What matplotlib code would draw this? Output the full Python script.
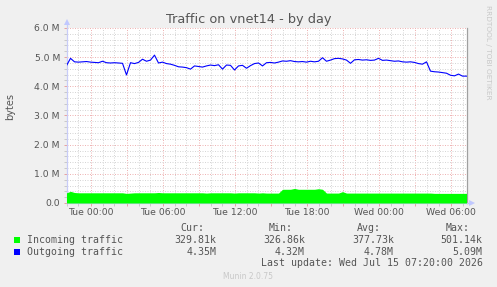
import numpy as np
import pandas as pd
import matplotlib
matplotlib.use('Agg')
import matplotlib.pyplot as plt
import matplotlib.dates as mdates
from matplotlib.patches import Rectangle
from matplotlib.ticker import MultipleLocator, FuncFormatter

# --- datos (muestras cada 20 minutos, en MB/s) ---
inicio = '2026-07-13 22:00'
fin = '2026-07-15 07:20'

saliente = [4.71, 4.96, 4.84, 4.83, 4.84, 4.85, 4.83, 4.82, 4.81, 4.86,
            4.81, 4.80, 4.81, 4.80, 4.79, 4.39, 4.81, 4.78, 4.82, 4.93,
            4.86, 4.90, 5.07, 4.80, 4.83, 4.78, 4.76, 4.72, 4.67, 4.66,
            4.64, 4.59, 4.70, 4.68, 4.66, 4.70, 4.73, 4.71, 4.74, 4.59,
            4.73, 4.72, 4.56, 4.70, 4.72, 4.62, 4.71, 4.78, 4.80, 4.70,
            4.81, 4.82, 4.80, 4.83, 4.87, 4.86, 4.88, 4.85, 4.84, 4.85,
            4.83, 4.86, 4.84, 4.86, 4.98, 4.86, 4.90, 4.95, 4.96, 4.94,
            4.90, 4.79, 4.91, 4.92, 4.90, 4.91, 4.89, 4.90, 4.96, 4.89,
            4.90, 4.88, 4.86, 4.87, 4.84, 4.83, 4.84, 4.82, 4.78, 4.76,
            4.84, 4.52, 4.50, 4.49, 4.47, 4.45, 4.38, 4.36, 4.42, 4.35,
            4.35]

entrante = [0.35, 0.40, 0.36, 0.35, 0.35, 0.35, 0.35, 0.35, 0.35, 0.35,
            0.35, 0.35, 0.35, 0.35, 0.35, 0.33, 0.34, 0.35, 0.35, 0.35,
            0.35, 0.35, 0.35, 0.36, 0.35, 0.35, 0.35, 0.35, 0.35, 0.35,
            0.35, 0.35, 0.35, 0.35, 0.35, 0.34, 0.35, 0.35, 0.35, 0.35,
            0.35, 0.35, 0.34, 0.35, 0.35, 0.35, 0.35, 0.35, 0.34, 0.35,
            0.34, 0.34, 0.34, 0.34, 0.47, 0.47, 0.47, 0.50, 0.47, 0.47,
            0.47, 0.47, 0.47, 0.49, 0.47, 0.34, 0.34, 0.34, 0.34, 0.39,
            0.34, 0.34, 0.34, 0.34, 0.34, 0.34, 0.34, 0.34, 0.34, 0.34,
            0.34, 0.34, 0.34, 0.34, 0.34, 0.34, 0.34, 0.34, 0.34, 0.34,
            0.34, 0.34, 0.33, 0.33, 0.33, 0.33, 0.33, 0.33, 0.33, 0.33,
            0.33]

etiquetasSerie = ['Incoming traffic', 'Outgoing traffic']
coloresSerie = ['#00ff00', '#0000ff']
actual = ['329.81k', '4.35M']
minimo = ['326.86k', '4.32M']
promedio = ['377.73k', '4.78M']
maximo = ['501.14k', '5.09M']

tiempos = pd.date_range(inicio, fin, periods=len(saliente))

# =============================================================================
# Figura
# =============================================================================
W, H = 497, 287
fondo = '#f0f0f0'
colorTexto = '#555555'

fig = plt.figure(figsize=(W / 100, H / 100), dpi=100, facecolor=fondo)

def px(x, y):
    # pasa de pixeles (origen arriba a la izquierda) a fraccion de figura
    return x / W, 1 - y / H

izq, der, arr, aba = 66.5, 466.5, 28, 203
ax = fig.add_axes([izq / W, 1 - aba / H, (der - izq) / W, (aba - arr) / H])
ax.set_facecolor('white')

ax.fill_between(tiempos, 0, np.array(entrante) * 1e6, color=coloresSerie[0],
                linewidth=0, zorder=3)
ax.plot(tiempos, np.array(saliente) * 1e6, color=coloresSerie[1], lw=0.8, zorder=4)

ax.set_xlim(tiempos[0], tiempos[-1])
ax.set_ylim(0, 6e6)

# ejes y grilla
ax.yaxis.set_major_locator(MultipleLocator(1e6))
ax.yaxis.set_minor_locator(MultipleLocator(0.2e6))
ax.yaxis.set_major_formatter(FuncFormatter(
    lambda v, p: '0.0' if v == 0 else f'{v / 1e6:.1f} M'))

ax.xaxis.set_major_locator(mdates.HourLocator(byhour=range(0, 24, 3)))
ax.xaxis.set_minor_locator(mdates.HourLocator())
def formatoHora(v, p):
    d = mdates.num2date(v)
    return d.strftime('%a %H:%M') if d.hour % 6 == 0 else ''
ax.xaxis.set_major_formatter(FuncFormatter(formatoHora))

ax.grid(True, which='major', color='#eeb4b4', lw=0.72, ls=(0, (1, 1.5)), zorder=1)
ax.grid(True, which='minor', color='#d6d6d6', lw=0.72, ls=(0, (1, 1.5)), zorder=1)
ax.set_axisbelow(True)

ax.tick_params(which='both', direction='out', length=2.2, width=0.7,
               labelsize=6.7, labelcolor=colorTexto)
ax.tick_params(which='major', color='#e8a0a0')
ax.tick_params(which='minor', color='#c8c8c8')
ax.tick_params(axis='y', pad=2.5)
ax.tick_params(axis='x', pad=1.5)

ax.spines['top'].set_visible(False)
ax.spines['right'].set_color('#a0a0a0')
ax.spines['right'].set_linewidth(0.9)
ax.spines['left'].set_color('#c8ccf8')
ax.spines['bottom'].set_color('#c8ccf8')
ax.spines['left'].set_linewidth(0.9)
ax.spines['bottom'].set_linewidth(0.9)

# flechas de los ejes
colorFlecha = '#c0c8ff'
ax.plot([0, 0], [1, 1.035], transform=ax.transAxes, color='#c8ccf8', lw=0.9,
        clip_on=False)
ax.plot([0], [1.035], transform=ax.transAxes, marker='^', ms=5, color=colorFlecha,
        clip_on=False, mew=0)
ax.plot([1, 1.015], [0, 0], transform=ax.transAxes, color='#c8ccf8', lw=0.9,
        clip_on=False)
ax.plot([1.015], [0], transform=ax.transAxes, marker='>', ms=5, color=colorFlecha,
        clip_on=False, mew=0)

# textos
fig.text(*px(249, 19), 'Traffic on vnet14 - by day', ha='center', va='center',
         fontsize=9.3, color=colorTexto)
fig.text(*px(10, 106), 'bytes', ha='center', va='center', rotation=90,
         fontsize=7, color=colorTexto)
fig.text(*px(488, 52), 'RRDTOOL / TOBI OETIKER', ha='center', va='center',
         rotation=270, fontsize=5.3, color='#c8c8c8')

mono = 'DejaVu Sans Mono'
fsLeyenda = 7.1
cabeceras = [('Cur:', 204), ('Min:', 292.7), ('Avg:', 381), ('Max:', 470)]
for texto, x in cabeceras:
    fig.text(*px(x, 228), texto, ha='right', va='center', family=mono,
             fontsize=fsLeyenda, color=colorTexto)

columnas = [(actual, 216.7), (minimo, 305), (promedio, 394), (maximo, 482.7)]
for i, nombre in enumerate(etiquetasSerie):
    y = 240 + 12 * i
    fig.add_artist(Rectangle(px(14, y + 3), 6 / W, 6 / H, transform=fig.transFigure,
                             color=coloresSerie[i], lw=0))
    fig.text(*px(26.7, y), nombre, ha='left', va='center', family=mono,
             fontsize=fsLeyenda, color=colorTexto)
    for valores, x in columnas:
        fig.text(*px(x, y), valores[i], ha='right', va='center', family=mono,
                 fontsize=fsLeyenda, color=colorTexto)

fig.text(*px(482.7, 263.5), 'Last update: Wed Jul 15 07:20:00 2026', ha='right',
         va='center', family=mono, fontsize=fsLeyenda, color=colorTexto)
fig.text(*px(248, 276.5), 'Munin 2.0.75', ha='center', va='center',
         fontsize=5.5, color='#c8c8c8')

fig.savefig('out.png', dpi=100, facecolor=fondo)
